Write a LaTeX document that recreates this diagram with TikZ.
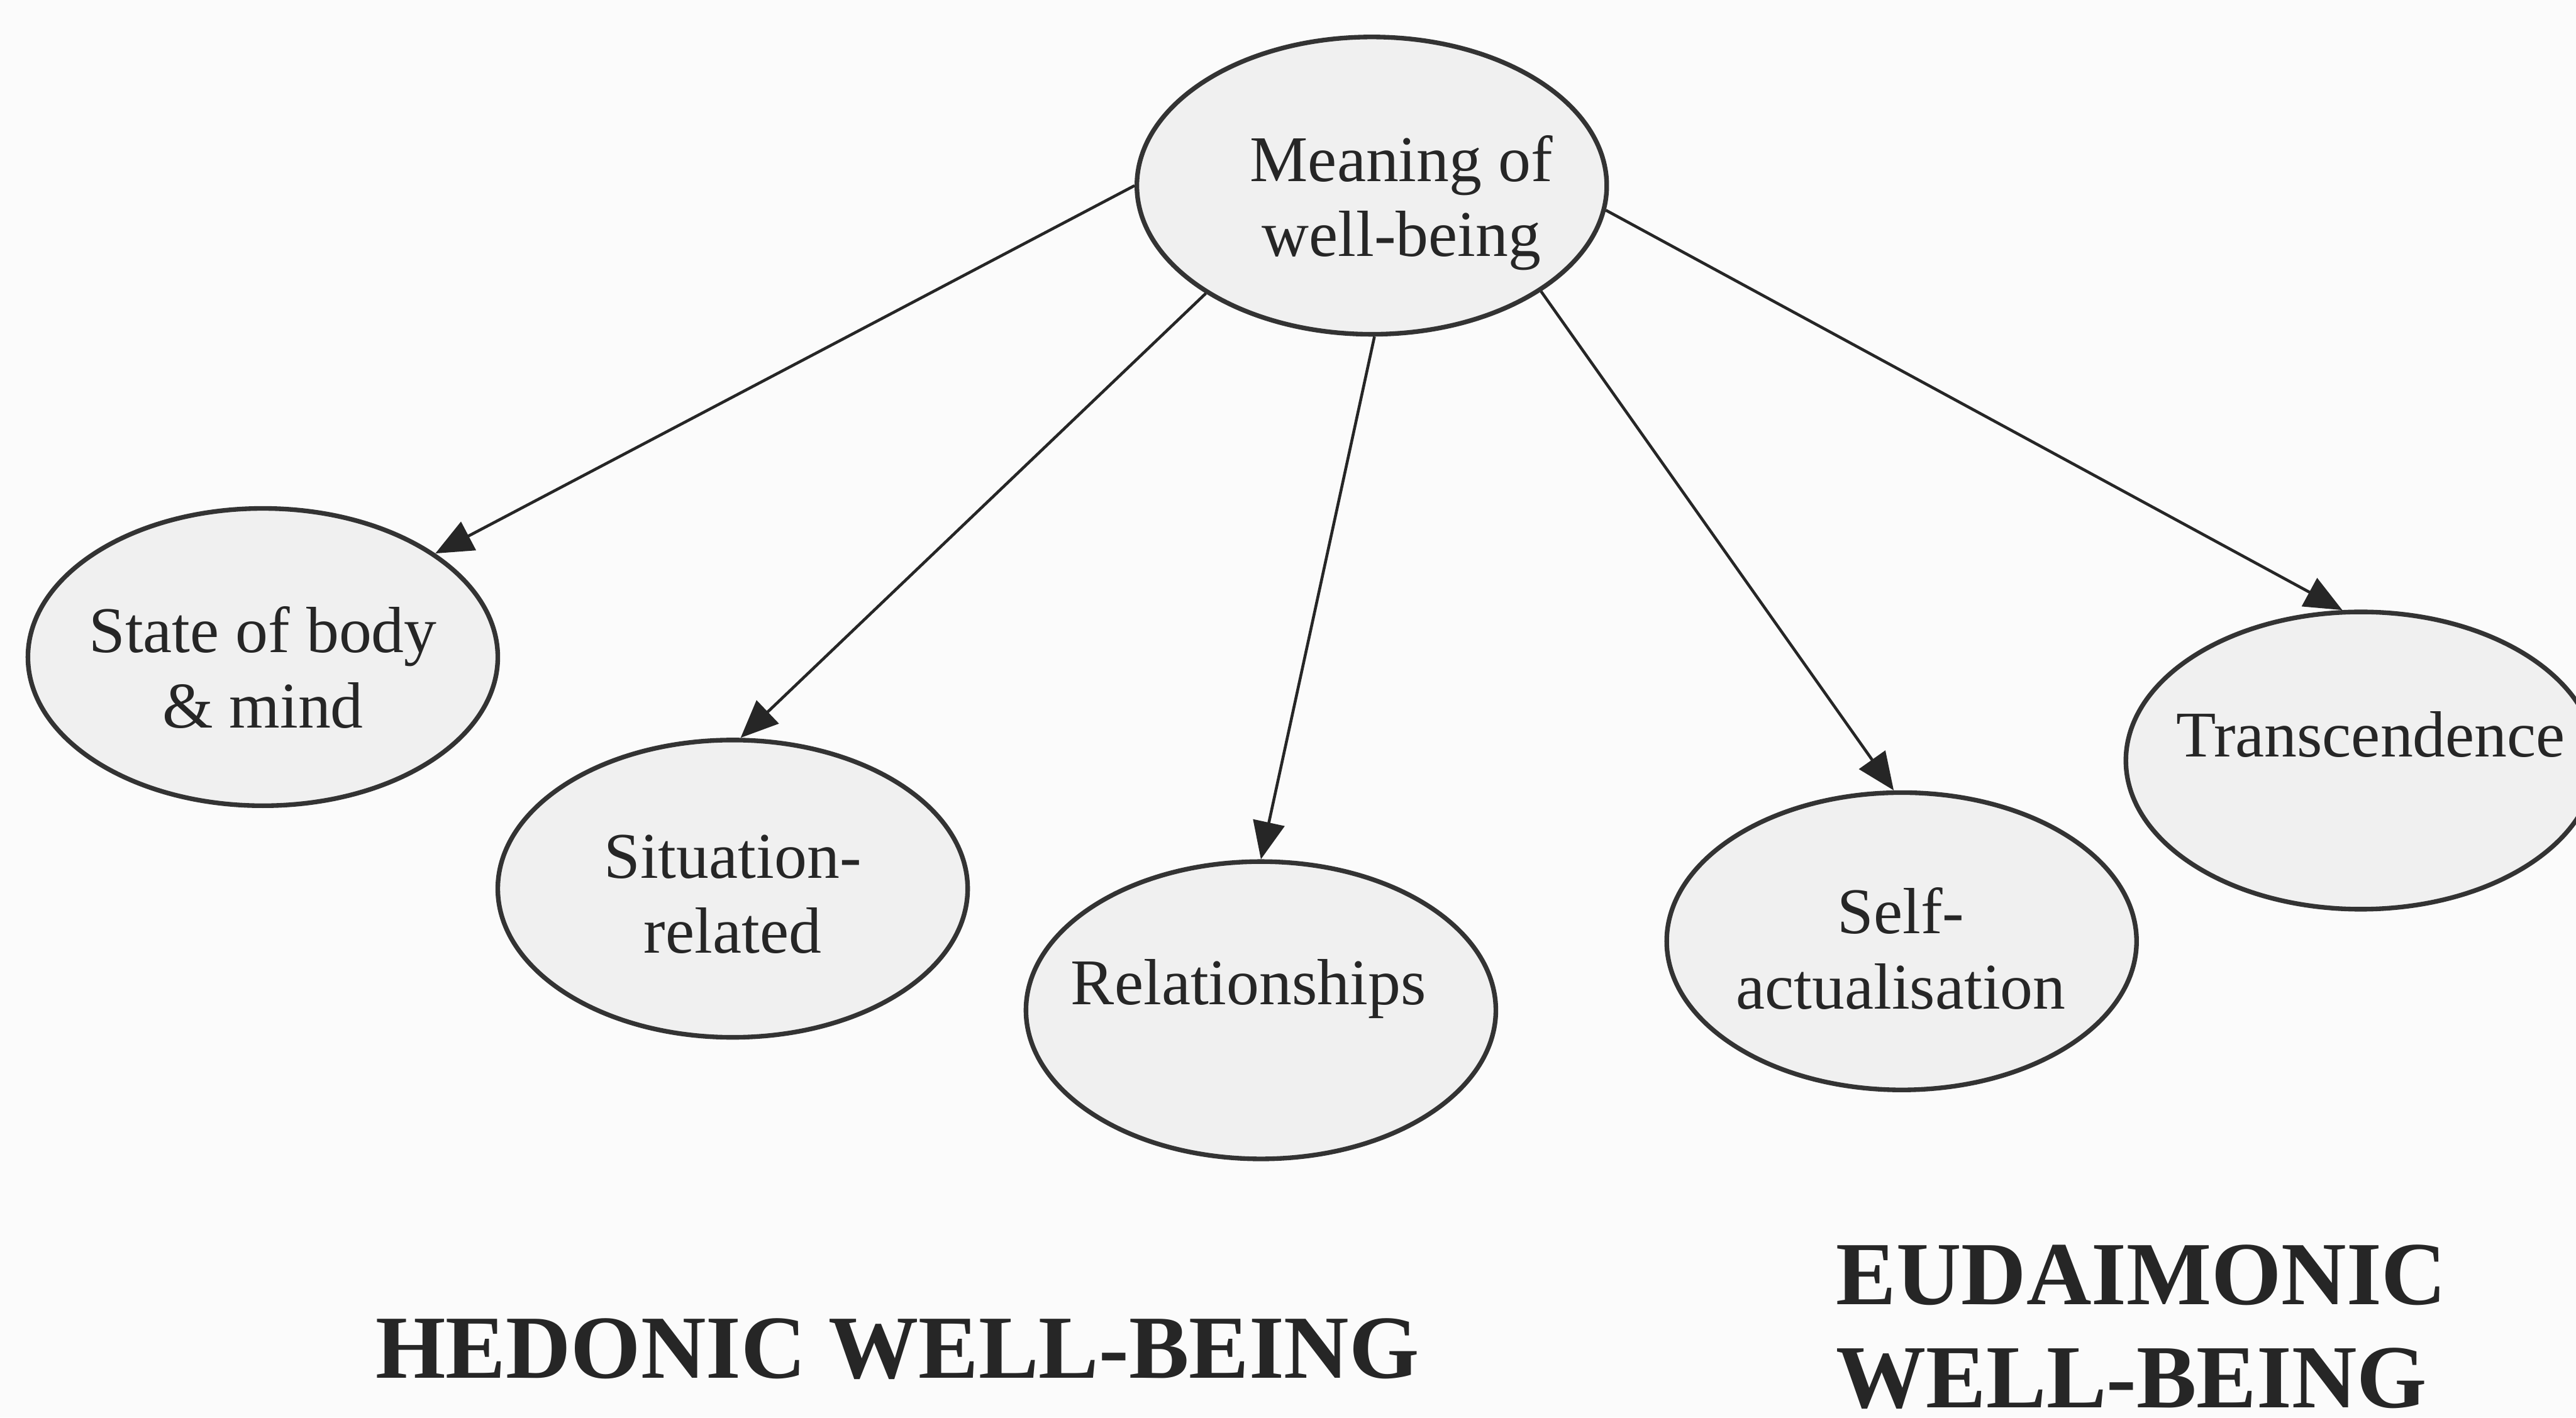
\documentclass[tikz,border=0pt]{standalone}
\usepackage{fontspec}
\setmainfont{Liberation Serif}
\usetikzlibrary{shapes.geometric,arrows.meta}

\begin{document}
\begin{tikzpicture}[
    bubble/.style={ellipse, draw=black!80, line width=0.8pt, fill=gray!12,
        minimum width=2.86cm, minimum height=1.81cm, inner sep=0pt},
    txt/.style={align=center, inner sep=0pt, font=\fontsize{11.3}{13}\selectfont, text=black!85},
    title/.style={align=left, inner sep=0pt, font=\fontsize{15.6}{17.9}\selectfont\bfseries, text=black!85},
    arr/.style={-{Triangle[length=6.5pt,width=5.5pt]}, line width=0.5pt, draw=black!85}]
    % page
    \fill[gray!3] (0,0) rectangle (15.68,-8.63);
    \useasboundingbox (0,0) rectangle (15.68,-8.63);
    % ellipses
    \node[bubble] (meaning) at (8.35,-1.13) {};
    \node[bubble] (state) at (1.60,-4.00) {};
    \node[bubble] (situation) at (4.46,-5.41) {};
    \node[bubble] (relation) at (7.675,-6.15) {};
    \node[bubble] (selfact) at (11.575,-5.73) {};
    \node[bubble] (transc) at (14.37,-4.63) {};
    % texts in the ellipses
    \node[txt] (meaning-t) at (8.53,-1.235) {Meaning of\\well-being};
    \node[txt] (state-t) at (1.60,-4.063) {State of body\\\& mind};
    \node[txt] (situation-t) at (4.46,-5.445) {Situation-\\related};
    \node[txt] (relation-t) at (7.60,-6.018) {Relationships};
    \node[txt] (selfact-t) at (11.57,-5.775) {Self-\\actualisation};
    \node[txt] (transc-t) at (14.43,-4.47) {Transcendence};
    % arrows
    \draw[arr] (meaning.180) -- (state.31);
    \draw[arr] (meaning.213) -- (situation.87);
    \draw[arr] (meaning.271) -- (relation.90);
    \draw[arr] (meaning.328) -- (selfact.93);
    \draw[arr] (meaning.354) -- (transc.97);
    % headings
    \node[title, anchor=base west] (hedonic) at (2.28,-8.39) {HEDONIC WELL-BEING};
    \node[title, anchor=north west] (eudaimonic) at (11.17,-7.57) {EUDAIMONIC\\WELL-BEING};
\end{tikzpicture}
\end{document}
